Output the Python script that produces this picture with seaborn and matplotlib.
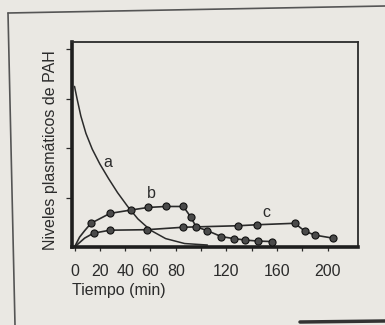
import matplotlib
matplotlib.use("Agg")
import matplotlib.pyplot as plt
from matplotlib.lines import Line2D
import seaborn as sns
import pandas as pd

# curve a (no markers)
a_t = [0, 2, 5, 9, 14, 20, 27, 34, 42, 50, 60, 72, 87, 105]
a_y = [3.25, 3.0, 2.65, 2.3, 1.98, 1.68, 1.38, 1.1, 0.82, 0.57, 0.34, 0.17, 0.07, 0.04]

# curve b: lead-in from origin + measured points
b_lead_t = [0, 4, 8]
b_lead_y = [0.0, 0.20, 0.33]
b_t = [13, 28, 45, 58, 72, 86, 92, 96, 105, 116, 126, 135, 145, 156]
b_y = [0.48, 0.68, 0.75, 0.80, 0.82, 0.82, 0.60, 0.41, 0.33, 0.21, 0.17, 0.14, 0.12, 0.11]

# curve c
c_lead_t = [0, 4, 8]
c_lead_y = [0.0, 0.09, 0.18]
c_t = [15, 28, 57, 86, 129, 144, 174, 182, 190, 204]
c_y = [0.28, 0.34, 0.35, 0.40, 0.43, 0.45, 0.48, 0.32, 0.24, 0.18]

x_ticks = [0, 20, 40, 60, 80, 100, 120, 140, 160, 180, 200]
x_tick_labels = ["0", "20", "40", "60", "80", "", "120", "", "160", "", "200"]
y_ticks = [1, 2, 3, 4]

curve_labels = ["a", "b", "c"]
label_pos_t = [26.6, 60.8, 151.8]
label_pos_y = [1.71, 1.08, 0.70]

paper = "#eae8e3"
ink = "#2b2b2b"

sns.set_theme(style="white")
plt.rcParams["font.family"] = ["Liberation Sans", "DejaVu Sans"]

fig = plt.figure(figsize=(3.85, 3.25), dpi=100)
fig.patch.set_facecolor(paper)
ax = fig.add_axes([0.187, 0.240, 0.743, 0.631])
ax.set_facecolor(paper)

df_a = pd.DataFrame({"t": a_t, "y": a_y})
df_b_line = pd.DataFrame({"t": b_lead_t + b_t, "y": b_lead_y + b_y})
df_c_line = pd.DataFrame({"t": c_lead_t + c_t, "y": c_lead_y + c_y})
df_b = pd.DataFrame({"t": b_t, "y": b_y})
df_c = pd.DataFrame({"t": c_t, "y": c_y})

sns.lineplot(data=df_a, x="t", y="y", sort=False, color=ink, lw=1.1, ax=ax)
sns.lineplot(data=df_b_line, x="t", y="y", sort=False, color=ink, lw=1.2, ax=ax)
sns.lineplot(data=df_c_line, x="t", y="y", sort=False, color=ink, lw=1.2, ax=ax)
sns.scatterplot(data=df_b, x="t", y="y", color="#4a4a4a", edgecolor="#111111",
                linewidth=0.8, s=26, zorder=3, ax=ax)
sns.scatterplot(data=df_c, x="t", y="y", color="#4a4a4a", edgecolor="#111111",
                linewidth=0.8, s=26, zorder=3, ax=ax)

for lab, tx, ty in zip(curve_labels, label_pos_t, label_pos_y):
    ax.text(tx, ty, lab, fontsize=11.5, color=ink, ha="center", va="center")

ax.set_xlim(-2, 224)
ax.set_ylim(0, 4.15)
ax.set_xticks(x_ticks)
ax.set_xticklabels(x_tick_labels)
ax.set_yticks(y_ticks)
ax.set_yticklabels([])
ax.set_xlabel("")
ax.set_ylabel("")

ax.tick_params(axis="x", direction="out", length=3, width=0.9, color=ink,
               labelsize=11.5, labelcolor=ink, pad=9, bottom=True)
ax.tick_params(axis="y", direction="out", length=4, width=0.9, color=ink,
               left=True)

for side in ["top", "right"]:
    ax.spines[side].set_linewidth(1.3)
    ax.spines[side].set_color(ink)
for side in ["left", "bottom"]:
    ax.spines[side].set_linewidth(2.6)
    ax.spines[side].set_color("#1e1e1e")

fig.text(51 / 385, 1 - 150 / 325, "Niveles plasmáticos de PAH", rotation=90,
         ha="center", va="center", fontsize=11.5, color=ink)
fig.text(72 / 385, 1 - 291 / 325, "Tiempo (min)", ha="left", va="center",
         fontsize=11.5, color=ink)

# frame of the scanned page
fig.add_artist(Line2D([8 / 385, 1.0], [1 - 13 / 325, 1 - 6 / 325],
                      transform=fig.transFigure, color="#555555", lw=1.2))
fig.add_artist(Line2D([8 / 385, 15 / 385], [1 - 13 / 325, 0.0],
                      transform=fig.transFigure, color="#555555", lw=1.2))
fig.add_artist(Line2D([300 / 385, 1.0], [1 - 322 / 325, 1 - 321 / 325],
                      transform=fig.transFigure, color="#333333", lw=2.5))

fig.savefig("out.png", dpi=100, facecolor=fig.get_facecolor())
